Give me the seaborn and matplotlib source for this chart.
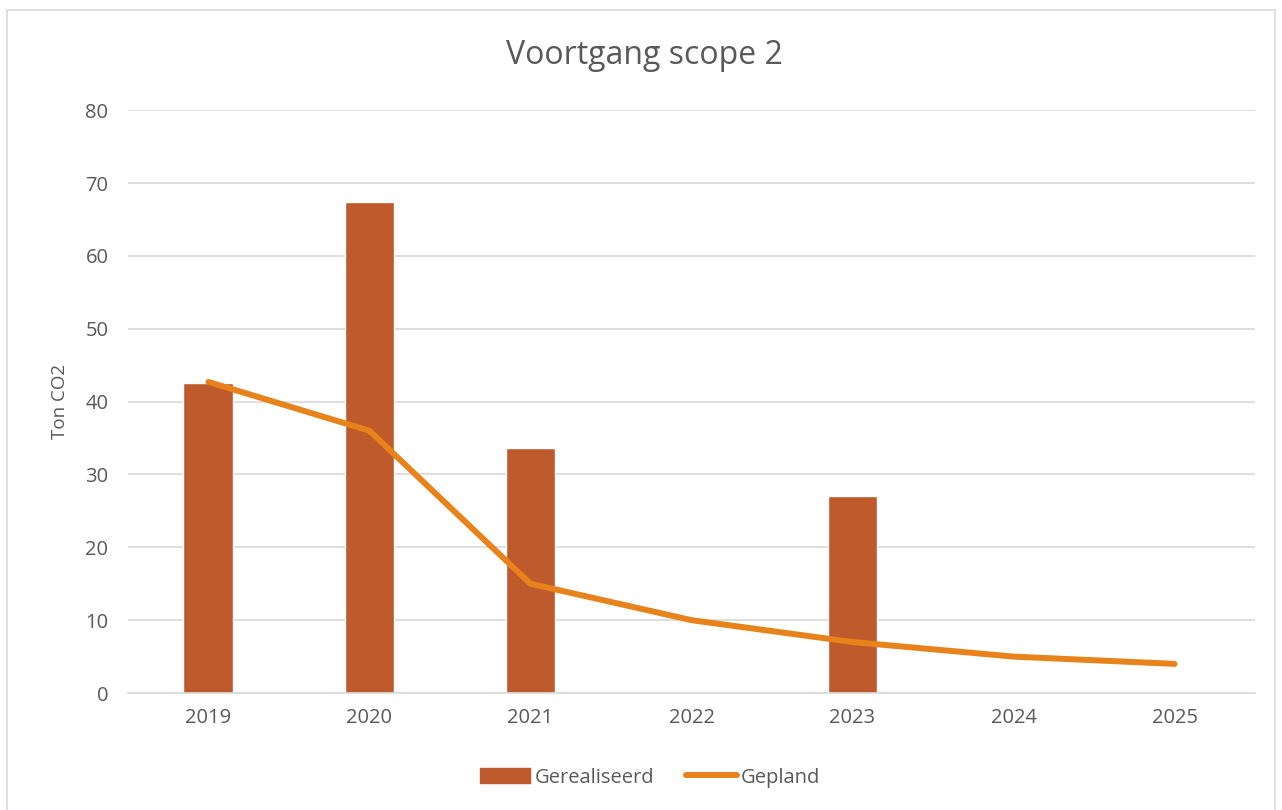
import matplotlib
matplotlib.use("Agg")
import matplotlib.pyplot as plt
import matplotlib.patches as mpatches
from matplotlib.lines import Line2D
import pandas as pd
import seaborn as sns

# chart values
years = ["2019", "2020", "2021", "2022", "2023", "2024", "2025"]
gerealiseerd = [42.6, 67.4, 33.6, None, 27.0, None, None]
gepland = [42.7, 36.0, 15.0, 10.0, 7.0, 5.0, 4.0]

df = pd.DataFrame({"jaar": years, "Gerealiseerd": gerealiseerd, "Gepland": gepland})

sns.set_theme(style="white")
plt.rcParams["font.family"] = ["Open Sans", "DejaVu Sans"]

bar_color = "#BE5A2B"
line_color = "#E8821A"
text_color = "#595959"

fig = plt.figure(figsize=(12.82, 8.10), dpi=100)
ax = fig.add_axes([0.0998, 0.1444, 0.8792, 0.7196])

sns.barplot(data=df, x="jaar", y="Gerealiseerd", color=bar_color, width=0.31,
            saturation=1, ax=ax, order=years)
sns.lineplot(data=df, x="jaar", y="Gepland", color=line_color, linewidth=4.3,
             ax=ax, sort=False, solid_capstyle="round")

ax.set_xlim(-0.5, 6.5)
ax.set_ylim(0, 80)
ax.set_yticks(range(0, 81, 10))
ax.yaxis.grid(True, color="#D9D9D9", linewidth=1.2)
ax.set_axisbelow(True)
for s in ["top", "right", "left"]:
    ax.spines[s].set_visible(False)
ax.spines["bottom"].set_color("#D9D9D9")
ax.spines["bottom"].set_linewidth(1.2)
ax.tick_params(axis="both", length=0, labelsize=14.5, colors=text_color, pad=14)
ax.tick_params(axis="x", pad=11)
ax.set_xlabel("")
ax.set_ylabel("Ton CO2", fontsize=13.5, color=text_color, labelpad=12)

fig.text(0.503, 0.932, "Voortgang scope 2", ha="center", va="center",
         fontsize=23, color=text_color)

handles = [mpatches.Patch(color=bar_color),
           Line2D([0], [0], color=line_color, linewidth=4.3, solid_capstyle="round")]
fig.legend(handles, ["Gerealiseerd", "Gepland"], loc="center", ncol=2,
           bbox_to_anchor=(0.507, 0.04), frameon=False, fontsize=14.5,
           labelcolor=text_color, handlelength=2.5, handletextpad=0.2,
           columnspacing=1.6, handleheight=0.8)

# outer chart border
fig.patches.append(mpatches.Rectangle((7 / 1282, -0.01), 1268 / 1282, 1 - 10 / 810 + 0.01,
                                      transform=fig.transFigure, fill=False,
                                      edgecolor="#D9D9D9", linewidth=1.2))

fig.savefig("out.png", dpi=100)
